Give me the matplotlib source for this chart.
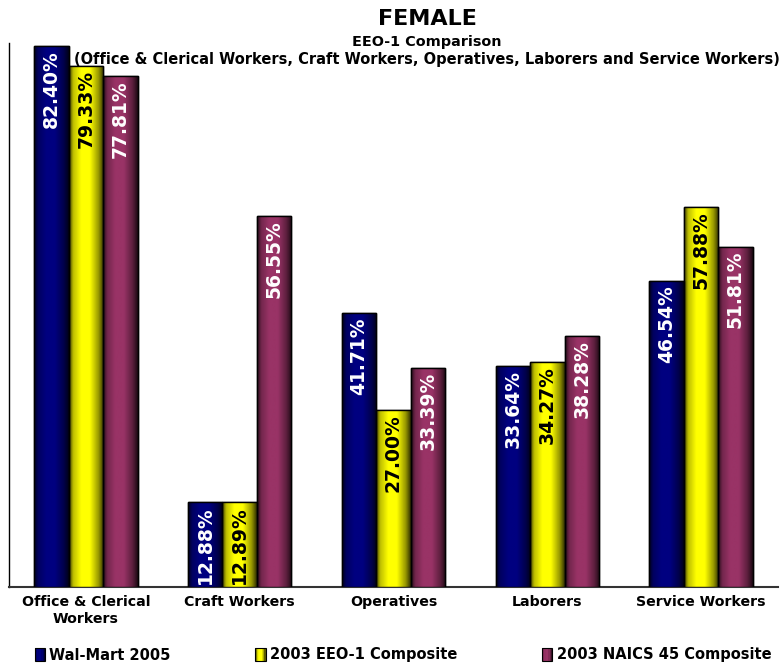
import numpy as np
import matplotlib
matplotlib.use("Agg")
import matplotlib.pyplot as plt
from matplotlib.patches import Rectangle
from matplotlib.colors import to_rgb
from matplotlib.legend_handler import HandlerBase

categories = ["Office & Clerical\nWorkers", "Craft Workers", "Operatives", "Laborers", "Service Workers"]
series_names = ["Wal-Mart 2005", "2003 EEO-1 Composite", "2003 NAICS 45 Composite"]
walmart_2005 = [82.40, 12.88, 41.71, 33.64, 46.54]
eeo1_2003 = [79.33, 12.89, 27.00, 34.27, 57.88]
naics45_2003 = [77.81, 56.55, 33.39, 38.28, 51.81]

series_values = [walmart_2005, eeo1_2003, naics45_2003]
colors = ["#000080", "#FFFF00", "#993366"]
label_colors = ["white", "black", "white"]

plt.rcParams['font.family'] = ['DejaVu Sans']
fig = plt.figure(figsize=(7.81, 6.67), dpi=100)
ax = fig.add_axes([9/781, (667-587)/667, (778-9)/781, (587-43)/667])

n = len(series_values)
width = 0.224
x = np.arange(len(categories))

# shading profile (cylindrical look)
tk = [0.0, 0.12, 0.35, 0.6, 0.85, 1.0]
fk = [0.25, 0.75, 1.0, 1.0, 0.6, 0.2]
tt = np.linspace(0, 1, 64)
prof = np.interp(tt, tk, fk)

def grad_img(color):
    c = np.array(to_rgb(color))
    img = prof[:, None] * c[None, :]
    return img[None, :, :]

for i, (vals, col, lc) in enumerate(zip(series_values, colors, label_colors)):
    offs = (i - (n - 1) / 2) * width
    bars = ax.bar(x + offs, vals, width, color=col, edgecolor="black", linewidth=1.0,
                  label=series_names[i], zorder=3)
    for b, v in zip(bars, vals):
        x0, w, h = b.get_x(), b.get_width(), b.get_height()
        im = ax.imshow(grad_img(col), extent=[x0, x0 + w, 0, h], aspect="auto",
                       zorder=3.5, interpolation="bilinear")
        clip = Rectangle((x0, 0), w, h, transform=ax.transData)
        im.set_clip_path(clip)
        ax.add_patch(Rectangle((x0, 0), w, h, fill=False, edgecolor="black",
                               linewidth=1.0, zorder=4))
        ax.annotate(f"{v:.2f}%", xy=(x0 + w / 2, h), xytext=(0, -3),
                    textcoords="offset points", rotation=90, ha="center", va="top",
                    color=lc, fontsize=13.5, fontweight="bold", zorder=5,
                    annotation_clip=False)

ax.set_xlim(-0.5, len(categories) - 0.5)
ax.set_ylim(0, 82.85)
ax.set_xticks(x)
ax.set_xticklabels(categories, fontsize=10.2, fontweight="bold", linespacing=1.2)
ax.tick_params(axis="x", length=0, pad=6)
ax.set_yticks([])
for s in ["top", "right"]:
    ax.spines[s].set_visible(False)
ax.spines["left"].set_color("black")
ax.spines["bottom"].set_color("#333333")
ax.spines["left"].set_linewidth(1.0)
ax.spines["bottom"].set_linewidth(1.5)

fig.text(0.547, 0.972, "FEMALE", ha="center", va="center", fontsize=16, fontweight="bold")
fig.text(0.547, 0.937, "EEO-1 Comparison", ha="center", va="center", fontsize=10.4, fontweight="bold")
fig.text(0.547, 0.911, "(Office & Clerical Workers, Craft Workers, Operatives, Laborers and Service Workers)",
         ha="center", va="center", fontsize=10.5, fontweight="bold")


class GradHandler(HandlerBase):
    def create_artists(self, legend, orig_handle, xdescent, ydescent, width, height, fontsize, trans):
        col = orig_handle.get_facecolor()
        arts = []
        nstr = 8
        for k in range(nstr):
            t = (k + 0.5) / nstr
            f = np.interp(t, tk, fk)
            c = np.array(col[:3]) * f
            arts.append(Rectangle((-xdescent + width * k / nstr, -ydescent), width / nstr, height,
                                  facecolor=c, edgecolor="none", transform=trans))
        arts.append(Rectangle((-xdescent, -ydescent), width, height, fill=False,
                              edgecolor="black", linewidth=0.8, transform=trans))
        return arts

handles = [Rectangle((0, 0), 1, 1, facecolor=c) for c in colors]
leg = fig.legend(handles, series_names, loc="center", bbox_to_anchor=(403/781, (667-655)/667),
                 ncol=3, frameon=False, handlelength=0.7, handleheight=0.9, handletextpad=0.3,
                 columnspacing=5.8, prop={"weight": "bold", "size": 10.5},
                 handler_map={Rectangle: GradHandler()})

fig.savefig("out.png", dpi=100)
